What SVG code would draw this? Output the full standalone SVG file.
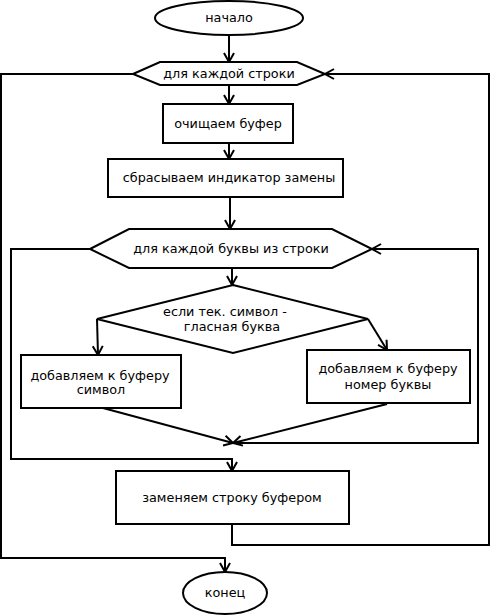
<svg xmlns="http://www.w3.org/2000/svg" width="490" height="615" viewBox="0 0 490 615">
<style>
.s{fill:#fff;stroke:#000;stroke-width:2}
.t{font-family:"DejaVu Sans","Liberation Sans",sans-serif;font-size:12.8px;fill:#000;text-anchor:middle}
.c{fill:none;stroke:#000;stroke-width:2}
</style>
<defs>
<marker id="a" markerUnits="userSpaceOnUse" markerWidth="20" markerHeight="20" refX="0" refY="0" viewBox="-10 -10 20 20" orient="auto" overflow="visible">
<path d="M-9,-5 L0,0 L-9,5" fill="none" stroke="#000" stroke-width="2"/>
</marker>
</defs>
<rect width="490" height="615" fill="#fff"/>
<g id="connectors">
<path class="c" d="M229,36 V62" marker-end="url(#a)"/>
<path class="c" d="M229,85 V104" marker-end="url(#a)"/>
<path class="c" d="M229,143 V159" marker-end="url(#a)"/>
<path class="c" d="M230,197 V229" marker-end="url(#a)"/>
<path class="c" d="M232,268 V285" marker-end="url(#a)"/>
<path class="c" d="M97,319 L98,355" marker-end="url(#a)"/>
<path class="c" d="M368,319 L387,350" marker-end="url(#a)"/>
<path class="c" d="M103,408 L233,443" marker-end="url(#a)"/>
<path class="c" d="M387,404 L233,443" marker-end="url(#a)"/>
<path class="c" d="M233,443 H478 V249 H372" marker-end="url(#a)"/>
<path class="c" d="M90,249 H11 V459 H232 V471" marker-end="url(#a)"/>
<path class="c" d="M232,524 V545 H489 V74 H325" marker-end="url(#a)"/>
<path class="c" d="M133,74 H1 V558 H225 V572" marker-end="url(#a)"/>
</g>
<g id="start">
<ellipse class="s" cx="229" cy="18" rx="74" ry="17"/>
<text class="t" x="229" y="22">начало</text>
</g>
<g id="loop-rows">
<polygon class="s" points="133,74 160,62 297,62 325,74 297,85 160,85"/>
<text class="t" x="229" y="78">для каждой строки</text>
</g>
<g id="clear-buffer">
<rect class="s" x="163" y="104" width="130" height="39"/>
<text class="t" x="228" y="128">очищаем буфер</text>
</g>
<g id="reset-flag">
<rect class="s" x="108" y="159" width="235" height="38"/>
<text class="t" x="229" y="182">сбрасываем индикатор замены</text>
</g>
<g id="loop-letters">
<polygon class="s" points="90,249 129,229 332,229 372,249 332,268 129,268"/>
<text class="t" x="231" y="253">для каждой буквы из строки</text>
</g>
<g id="decision">
<polygon class="s" points="233,285 368,319 233,353 97,319"/>
<text class="t" x="225" y="316">если тек. символ -</text>
<text class="t" x="232" y="331">гласная буква</text>
</g>
<g id="add-symbol">
<rect class="s" x="21" y="355" width="160" height="53"/>
<text class="t" x="100" y="380">добавляем к буферу</text>
<text class="t" x="101" y="394">символ</text>
</g>
<g id="add-number">
<rect class="s" x="307" y="350" width="163" height="53"/>
<text class="t" x="388" y="373">добавляем к буферу</text>
<text class="t" x="388" y="389">номер буквы</text>
</g>
<g id="replace">
<rect class="s" x="116" y="471" width="233" height="53"/>
<text class="t" x="232" y="502">заменяем строку буфером</text>
</g>
<g id="end">
<ellipse class="s" cx="225" cy="593" rx="42" ry="21"/>
<text class="t" x="225" y="597">конец</text>
</g>
</svg>
